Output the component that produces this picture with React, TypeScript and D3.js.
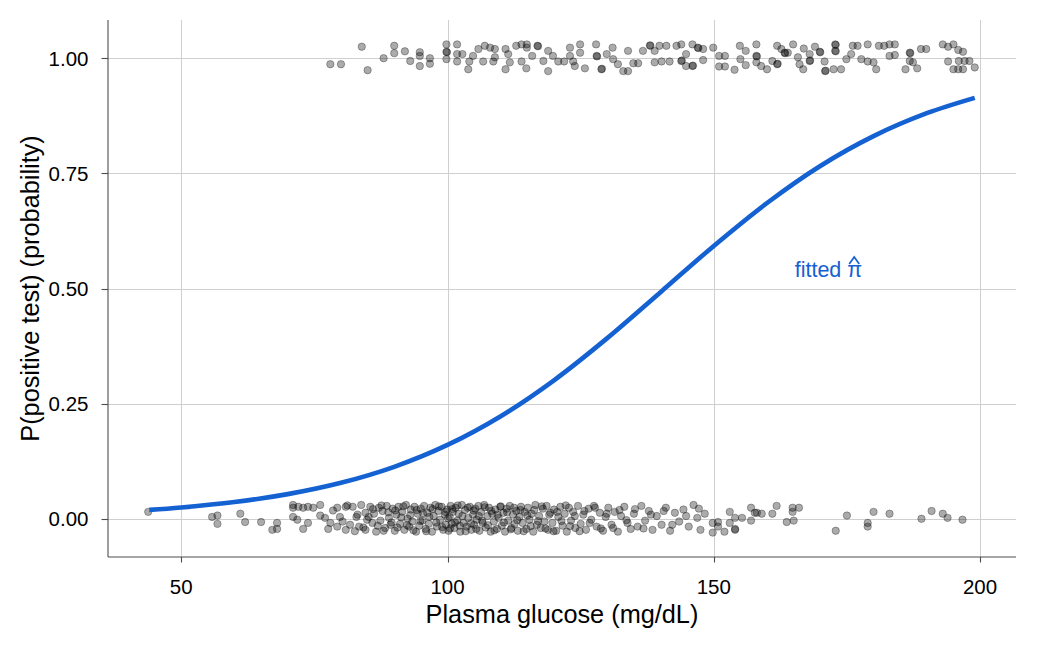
import React, { useEffect, useRef } from 'react';
import * as d3 from 'd3';

// fitted probability from the logistic model, sampled along glucose
const curveGlucose = [44, 50, 60, 70, 80, 90, 100, 110, 120, 130, 140, 150, 160, 170, 180, 190, 199];
const curveProb = [0.0193, 0.0245, 0.0363, 0.0535, 0.0781, 0.1128, 0.1603, 0.2227, 0.3007, 0.3922, 0.492, 0.5925, 0.6857, 0.7661, 0.8309, 0.8806, 0.914];

const xTicks = [50, 100, 150, 200];
const yTicks = [0, 0.25, 0.5, 0.75, 1];
const yTickLabels = ['0.00', '0.25', '0.50', '0.75', '1.00'];

// [glucose, vertical jitter] for negative tests (drawn at 0)
const negatives: [number, number][] = [
  [43.8, 0.015], [55.8, 0.004], [56.8, 0.007], [56.8, -0.011], [61.1, 0.011], [62.0, -0.007], [65.0, -0.007],
  [67.1, -0.024], [68.0, -0.009], [68.0, -0.022],
  [71.0, 0.03], [71.0, 0.024], [71.0, 0.004], [71.8, -0.002], [72.0, 0.026], [72.9, 0.024], [72.9, -0.022],
  [73.8, -0.009], [73.8, 0.026], [74.8, 0.024],
  [76.1, 0.03], [76.1, 0.007], [77.0, 0.002], [77.6, -0.022], [78.0, -0.009], [79.3, 0.024], [79.3, -0.017], [79.8, 0.004],
  [80.9, 0.026], [80.9, -0.024], [81.7, -0.013], [82.2, 0.026], [82.9, 0.004], [83.4, -0.017], [83.8, 0.03],
  [84.6, 0.013], [84.6, -0.024], [84.9, -0.002],
  [85.5, 0.026], [85.9, -0.009], [86.2, 0.011], [86.6, -0.028], [87.1, 0.024], [87.4, -0.004], [87.8, 0.017],
  [88.3, -0.02], [88.6, 0.028], [89.0, 0.002], [89.3, -0.013], [89.7, 0.022],
  [90.1, -0.026], [90.4, 0.009], [90.8, 0.026], [91.1, -0.011], [91.5, 0.015], [91.9, -0.024], [92.2, 0.03],
  [92.5, 0.0], [92.8, -0.017], [93.1, 0.02], [93.4, -0.006], [93.8, 0.026], [94.1, -0.028], [94.4, 0.011],
  [94.7, -0.015], [95.0, 0.022],
  [95.3, -0.004], [95.6, 0.028], [95.9, -0.022], [96.2, 0.013], [96.5, -0.011], [96.8, 0.024], [97.1, -0.028],
  [97.4, 0.006], [97.7, 0.03], [98.0, -0.017], [98.3, 0.017], [98.6, -0.002], [98.9, 0.026], [99.2, -0.024],
  [99.5, 0.009], [99.7, -0.013], [99.9, 0.02],
  [100.2, -0.026], [100.4, 0.004], [100.6, 0.028], [100.8, -0.011], [101.0, 0.015], [101.3, -0.02], [101.5, 0.024],
  [101.8, -0.004], [102.1, 0.011], [102.4, -0.028], [102.7, 0.03], [103.0, -0.009], [103.3, 0.019], [103.6, -0.017],
  [103.9, 0.002], [104.2, 0.026], [104.5, -0.024], [104.8, 0.009],
  [105.0, -0.013], [105.2, 0.022], [105.5, -0.002], [105.8, 0.028], [106.0, -0.026], [106.3, 0.015], [106.6, -0.009],
  [106.9, 0.03], [107.2, -0.019], [107.5, 0.006], [107.8, 0.024], [108.1, -0.028], [108.4, 0.011], [108.7, -0.006],
  [109.0, 0.02], [109.3, -0.022], [109.6, 0.002], [109.9, 0.026],
  [110.2, -0.015], [110.5, 0.013], [110.8, -0.028], [111.1, 0.022], [111.4, -0.004], [111.7, 0.028], [112.0, -0.02],
  [112.3, 0.009], [112.6, -0.011], [112.9, 0.017], [113.2, -0.026], [113.5, 0.004], [113.8, 0.026], [114.1, -0.009],
  [114.5, 0.015], [114.8, -0.022],
  [115.1, 0.024], [115.4, -0.002], [115.8, 0.011], [116.1, -0.028], [116.5, 0.03], [116.8, -0.013], [117.2, 0.006],
  [117.5, -0.02], [117.9, 0.022], [118.2, -0.006], [118.6, 0.028], [118.9, -0.024], [119.3, 0.013], [119.7, -0.009],
  [120.0, 0.02], [120.4, -0.026], [120.8, 0.004], [121.2, 0.026], [121.6, -0.015], [122.0, 0.011], [122.4, -0.028],
  [122.8, 0.024], [123.2, -0.004], [123.6, 0.015], [124.0, -0.02], [124.5, 0.028],
  [125.0, -0.011], [125.5, 0.009], [126.0, -0.024], [126.5, 0.022], [127.0, -0.002], [127.5, 0.028], [128.0, -0.017],
  [128.6, 0.013], [129.2, -0.026], [129.7, 0.004],
  [130.2, 0.024], [130.8, -0.013], [131.4, 0.015], [132.0, -0.028], [132.6, 0.006], [133.2, 0.026], [133.8, -0.009],
  [134.4, -0.022],
  [135.0, 0.011], [135.7, -0.017], [136.4, 0.028], [137.1, -0.004], [137.8, 0.017], [138.5, -0.024], [139.3, 0.006],
  [140.2, -0.013], [141.0, 0.024], [141.8, -0.026], [142.7, 0.013], [143.5, -0.006], [144.3, 0.02],
  [145.3, -0.017], [146.2, 0.03], [146.9, 0.002], [147.5, -0.024], [148.3, 0.011],
  [149.8, -0.009], [149.8, -0.03], [150.8, -0.007], [150.8, -0.017], [152.0, -0.028], [153.0, 0.015], [153.0, -0.009],
  [154.0, -0.022], [154.0, -0.024], [154.0, 0.002], [155.3, 0.002], [157.0, 0.024], [157.0, -0.004], [157.7, 0.013],
  [158.1, 0.013], [159.0, 0.011], [161.0, 0.011], [161.8, 0.028], [163.7, -0.007], [164.8, 0.015], [165.0, -0.004],
  [164.8, 0.024], [166.0, 0.024], [172.9, -0.026], [175.0, 0.007], [178.9, -0.009], [178.9, -0.017], [180.0, 0.015],
  [183.0, 0.011], [189.0, 0.0], [190.9, 0.017], [193.0, 0.011], [193.9, 0.002], [196.7, -0.002],
  // second pass through the crowded middle of the group
  [78.5, 0.018], [80.3, -0.006], [81.2, 0.029], [82.6, -0.027], [83.1, 0.009], [84.2, -0.019], [85.2, 0.004],
  [86.0, 0.021], [86.9, -0.015], [87.6, 0.029], [88.0, -0.026], [88.9, 0.014], [89.5, -0.008], [90.2, 0.018],
  [90.6, -0.019], [91.3, 0.003], [91.7, 0.027], [92.4, -0.014], [93.0, 0.008], [93.6, -0.025], [94.2, 0.019],
  [94.9, -0.005], [95.4, 0.012], [96.0, -0.027], [96.6, 0.004], [97.2, 0.021], [97.9, -0.008], [98.4, 0.027],
  [99.0, -0.018], [99.6, 0.015], [100.1, 0.001], [100.5, -0.021], [100.9, 0.021], [101.4, -0.008], [101.9, 0.029],
  [102.3, -0.015], [102.8, 0.006], [103.4, -0.027], [103.8, 0.024], [104.4, -0.01], [104.9, 0.018], [105.4, -0.022],
  [105.9, 0.006], [106.5, -0.004], [107.0, 0.025], [107.6, -0.014], [108.2, 0.017], [108.8, -0.025], [109.4, 0.009],
  [110.0, 0.027], [110.6, -0.008], [111.2, 0.014], [111.9, -0.023], [112.5, 0.024], [113.1, -0.003], [113.7, 0.019],
  [114.3, -0.027], [115.0, 0.007], [115.6, -0.016], [116.3, 0.019], [117.0, -0.005], [117.7, 0.027], [118.4, -0.021],
  [119.1, 0.009], [119.9, -0.027], [120.6, 0.015], [121.4, -0.005], [122.2, 0.029], [123.0, -0.016], [123.9, 0.006],
  [124.8, -0.027], [125.7, 0.017], [126.7, -0.009], [127.7, 0.024], [128.8, -0.021], [129.9, 0.011], [131.1, -0.02],
  [132.3, 0.019], [133.6, -0.003], [135.2, 0.021], [136.8, -0.021], [138.2, 0.009], [140.6, 0.017], [142.2, -0.013],
  [144.8, 0.006], [147.2, 0.022],
];

// [glucose, vertical jitter] for positive tests (drawn at 1)
const positives: [number, number][] = [
  [78.0, -0.013], [80.0, -0.013], [83.9, 0.025], [85.0, -0.026], [88.0, 0.0], [90.0, 0.027], [90.0, 0.011],
  [92.0, 0.015], [93.0, -0.006], [94.8, 0.013], [94.8, -0.017], [94.8, 0.005], [96.7, 0.0], [96.7, -0.012],
  [99.8, 0.03], [99.8, 0.014], [99.9, 0.013], [99.8, -0.002], [101.8, 0.03], [101.8, 0.009], [101.8, -0.007],
  [102.8, 0.009], [104.1, -0.007], [103.9, -0.024], [104.8, 0.005], [105.8, 0.02], [106.7, -0.007], [107.0, 0.027],
  [108.0, 0.023], [108.6, -0.007], [108.9, 0.02], [108.9, 0.002], [110.9, 0.02], [110.9, -0.024], [111.4, 0.009],
  [111.7, -0.009], [112.9, 0.027], [113.9, -0.007], [113.9, 0.03], [114.9, 0.03], [114.9, 0.023], [114.8, -0.022],
  [115.9, 0.005], [116.9, 0.027], [117.0, 0.026], [118.0, -0.006], [118.9, 0.016], [118.9, -0.028], [119.8, 0.005],
  [120.8, -0.007], [121.9, -0.007], [123.0, 0.023], [123.0, 0.005], [123.6, -0.007], [123.9, -0.017], [124.9, 0.03],
  [124.9, 0.012], [125.8, -0.022], [127.9, 0.03], [128.0, 0.005], [128.1, 0.004], [128.9, -0.024], [129.0, -0.023],
  [129.9, 0.009], [131.0, 0.023], [131.1, -0.002], [132.0, -0.013], [133.0, -0.028], [133.9, 0.016], [133.9, -0.028],
  [134.9, -0.011], [135.8, -0.011], [136.7, 0.016], [138.0, 0.028], [138.1, 0.027], [138.9, 0.016], [138.9, -0.009],
  [139.8, 0.027], [140.2, -0.007], [141.1, 0.027], [141.7, -0.007], [143.0, 0.027], [143.9, 0.03], [143.9, -0.006],
  [144.0, -0.005], [144.8, 0.009], [144.8, -0.017], [146.0, 0.03], [146.0, -0.017], [146.1, -0.016], [147.0, 0.023],
  [147.1, 0.022], [148.0, 0.02], [148.0, -0.004], [149.9, 0.023], [151.0, 0.005], [151.0, -0.018], [152.1, 0.005],
  [152.1, -0.018], [153.9, -0.025], [154.9, 0.027], [155.0, -0.002], [156.0, -0.015], [156.0, 0.016], [158.0, 0.03],
  [158.0, 0.005], [158.1, 0.004], [158.0, -0.009], [158.9, -0.017], [160.0, -0.024], [161.0, -0.006], [161.9, 0.027],
  [161.9, -0.013], [162.0, -0.012], [162.7, 0.02], [163.3, 0.012], [163.4, 0.011], [163.9, 0.012], [164.9, 0.03],
  [165.8, 0.002], [166.1, -0.013], [166.8, -0.024], [166.9, 0.021], [168.0, 0.009], [168.0, -0.006], [168.1, -0.005],
  [169.0, 0.025], [169.9, 0.014], [170.0, 0.013], [170.8, -0.007], [170.9, -0.028], [171.0, -0.027], [172.5, -0.024],
  [172.8, 0.03], [172.9, 0.029], [172.8, 0.016], [172.9, 0.015], [173.9, -0.024], [174.9, -0.002], [175.8, 0.009],
  [176.1, 0.027], [177.0, 0.027], [177.7, -0.002], [178.9, 0.03], [178.9, -0.007], [180.0, -0.009], [180.5, -0.024],
  [181.0, 0.027], [182.0, 0.027], [183.0, 0.03], [184.0, 0.03], [183.0, 0.005], [184.0, 0.007], [186.8, 0.012],
  [186.9, 0.011], [186.8, -0.006], [187.4, -0.009], [188.2, -0.022], [186.0, -0.024], [188.9, 0.02], [189.9, 0.02],
  [193.0, 0.03], [194.0, 0.025], [195.0, 0.03], [195.9, 0.018], [196.8, 0.014], [194.0, -0.007], [196.0, -0.006],
  [197.1, -0.006], [198.0, -0.006], [195.0, -0.024], [195.9, -0.024], [196.8, -0.024], [199.0, -0.02],
];

const FONT = '"Liberation Sans", Arial, Helvetica, sans-serif';
const BLUE = '#1461d2';

const App = () => {
  const ref = useRef<SVGSVGElement>(null);

  useEffect(() => {
    const svg = d3.select(ref.current);
    svg.selectAll('*').remove();

    const width = 1050;
    const height = 645;
    const margin = { top: 20, right: 34, bottom: 88, left: 108 };
    const left = margin.left;
    const right = width - margin.right;
    const top = margin.top;
    const bottom = height - margin.bottom;

    // ggplot-style 5% expansion around the data
    const xMin = d3.min(curveGlucose)!;
    const xMax = d3.max(curveGlucose)!;
    const xPad = (xMax - xMin) * 0.05;
    const jit = 0.03;
    const yPad = (1 + 2 * jit) * 0.05;

    const x = d3.scaleLinear().domain([xMin - xPad, xMax + xPad]).range([left, right]);
    const y = d3.scaleLinear().domain([-jit - yPad, 1 + jit + yPad]).range([bottom, top]);

    svg.attr('width', width).attr('height', height).style('font-family', FONT);

    // grid
    const grid = svg.append('g').attr('stroke', '#cfcfcf').attr('stroke-width', 1);
    grid.selectAll('.gx').data(xTicks).enter().append('line')
      .attr('x1', d => Math.round(x(d)) + 0.5).attr('x2', d => Math.round(x(d)) + 0.5)
      .attr('y1', top).attr('y2', bottom);
    grid.selectAll('.gy').data(yTicks).enter().append('line')
      .attr('y1', d => Math.round(y(d)) + 0.5).attr('y2', d => Math.round(y(d)) + 0.5)
      .attr('x1', left).attr('x2', right);

    // jittered observations
    const pts = svg.append('g')
      .attr('fill', '#000').attr('fill-opacity', 0.33)
      .attr('stroke', '#000').attr('stroke-opacity', 0.3).attr('stroke-width', 1);
    pts.selectAll('.neg').data(negatives).enter().append('circle')
      .attr('cx', d => x(d[0])).attr('cy', d => y(0 + d[1])).attr('r', 3.7);
    pts.selectAll('.pos').data(positives).enter().append('circle')
      .attr('cx', d => x(d[0])).attr('cy', d => y(1 + d[1])).attr('r', 3.7);

    // fitted curve
    const line = d3.line<number>()
      .x((_, i) => x(curveGlucose[i]))
      .y(d => y(d))
      .curve(d3.curveCatmullRom);
    svg.append('path')
      .attr('d', line(curveProb))
      .attr('fill', 'none')
      .attr('stroke', BLUE)
      .attr('stroke-width', 4.6)
      .attr('stroke-linecap', 'butt');

    // fitted label; the hat over pi is a small stroked chevron
    const labX = x(165.2);
    const labY = y(0.526);
    svg.append('text')
      .attr('fill', BLUE)
      .style('font-size', '21.5px')
      .attr('x', labX).attr('y', labY)
      .text('fitted π');
    const hx = labX + 59.5;
    const hy = labY - 19.5;
    svg.append('path')
      .attr('d', `M${hx - 5},${hy + 7} L${hx},${hy} L${hx + 5},${hy + 7}`)
      .attr('fill', 'none')
      .attr('stroke', BLUE)
      .attr('stroke-width', 1.7);

    // axes
    const axis = svg.append('g').attr('stroke', '#4d4d4d').attr('stroke-width', 1.1);
    axis.append('line').attr('x1', left).attr('x2', left).attr('y1', top).attr('y2', bottom);
    axis.append('line').attr('x1', left).attr('x2', right).attr('y1', bottom).attr('y2', bottom);
    axis.selectAll('.tx').data(xTicks).enter().append('line')
      .attr('x1', d => Math.round(x(d)) + 0.5).attr('x2', d => Math.round(x(d)) + 0.5)
      .attr('y1', bottom).attr('y2', bottom + 5.5);
    axis.selectAll('.ty').data(yTicks).enter().append('line')
      .attr('y1', d => Math.round(y(d)) + 0.5).attr('y2', d => Math.round(y(d)) + 0.5)
      .attr('x1', left - 6.5).attr('x2', left);

    const labels = svg.append('g').attr('fill', '#000').style('font-size', '20.5px');
    labels.selectAll('.lx').data(xTicks).enter().append('text')
      .attr('x', d => x(d)).attr('y', bottom + 37)
      .attr('text-anchor', 'middle')
      .text(d => d);
    labels.selectAll('.ly').data(yTicks).enter().append('text')
      .attr('x', left - 19.5).attr('y', d => y(d) + 7.4)
      .attr('text-anchor', 'end')
      .text((_, i) => yTickLabels[i]);

    svg.append('text')
      .attr('x', (left + right) / 2).attr('y', bottom + 66)
      .attr('text-anchor', 'middle')
      .style('font-size', '25.3px')
      .text('Plasma glucose (mg/dL)');

    svg.append('text')
      .attr('transform', `translate(39,${(top + bottom) / 2}) rotate(-90)`)
      .attr('text-anchor', 'middle')
      .style('font-size', '25.3px')
      .text('P(positive test) (probability)');
  }, []);

  return (
    <div>
      <svg ref={ref} style={{ position: 'absolute', left: 0, top: 0, background: '#fff' }}></svg>
    </div>
  );
};

export default App;
